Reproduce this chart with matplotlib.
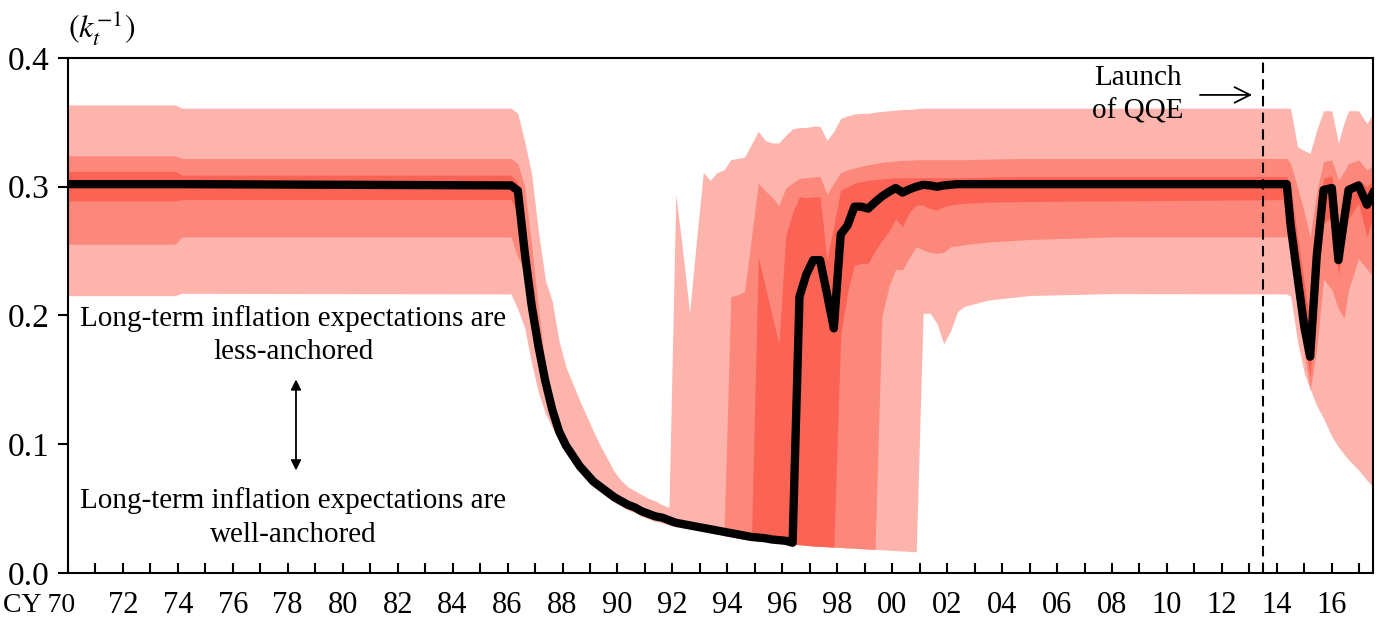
import matplotlib
matplotlib.use("Agg")
import matplotlib.pyplot as plt

plt.rcParams['font.family'] = ['Liberation Serif', 'DejaVu Serif']
plt.rcParams['mathtext.fontset'] = 'stix'

# quarterly dates (irregular spacing where the series are flat)
years = [1970.0, 1973.9, 1974.15, 1986.125,
         1986.375, 1986.625, 1986.875, 1987.125, 1987.375, 1987.625, 1987.875, 1988.125,
         1988.375, 1988.625, 1988.875, 1989.125, 1989.375, 1989.625, 1989.875, 1990.125,
         1990.375, 1990.625, 1990.875, 1991.125, 1991.375, 1991.625, 1991.875, 1992.125,
         1992.375, 1992.625, 1992.875, 1993.125, 1993.375, 1993.625, 1993.875, 1994.125,
         1994.375, 1994.625, 1994.875, 1995.125, 1995.375, 1995.625, 1995.875, 1996.125,
         1996.375, 1996.625, 1996.875, 1997.125, 1997.375, 1997.625, 1997.875, 1998.125,
         1998.375, 1998.625, 1998.875, 1999.125, 1999.375, 1999.625, 1999.875, 2000.125,
         2000.375, 2000.625, 2000.875, 2001.125, 2001.375, 2001.625, 2001.875, 2002.125,
         2002.375, 2002.625,
         2003.5, 2005.0, 2008.0, 2014.36,
         2014.5, 2014.75, 2015.0, 2015.21, 2015.45, 2015.7, 2016.0, 2016.24, 2016.45,
         2016.61, 2016.97, 2017.28, 2017.5]

# median of k_t^-1
median = [0.302, 0.302, 0.302, 0.301,
          0.297, 0.249, 0.208, 0.176, 0.149, 0.127, 0.110, 0.099,
          0.091, 0.083, 0.077, 0.071, 0.067, 0.063, 0.059, 0.056,
          0.053, 0.051, 0.048, 0.046, 0.044, 0.043, 0.041, 0.039,
          0.038, 0.037, 0.036, 0.035, 0.034, 0.033, 0.032, 0.031,
          0.030, 0.029, 0.028, 0.0275, 0.027, 0.026, 0.0255, 0.025,
          0.0235, 0.2146, 0.232, 0.243, 0.243, 0.217, 0.190, 0.263,
          0.270, 0.2845, 0.2845, 0.283, 0.288, 0.2925, 0.296, 0.299,
          0.2955, 0.298, 0.300, 0.3015, 0.301, 0.300, 0.301, 0.3015,
          0.302, 0.302,
          0.302, 0.302, 0.302, 0.302,
          0.270, 0.230, 0.191, 0.168, 0.246, 0.2975, 0.299, 0.243, 0.275,
          0.2975, 0.301, 0.286, 0.295]

outer_hi = [0.3635, 0.3635, 0.361, 0.361,
            0.357, 0.335, 0.310, 0.265, 0.228, 0.211, 0.180, 0.160,
            0.147, 0.134, 0.122, 0.110, 0.099, 0.089, 0.079, 0.072,
            0.067, 0.064, 0.061, 0.058, 0.056, 0.053, 0.051, 0.294,
            0.250, 0.202, 0.258, 0.311, 0.305, 0.311, 0.313, 0.321,
            0.322, 0.323, 0.333, 0.343, 0.336, 0.334, 0.334, 0.340,
            0.345, 0.346, 0.346, 0.347, 0.347, 0.336, 0.343, 0.353,
            0.355, 0.3565, 0.357, 0.357, 0.358, 0.3585, 0.359, 0.3595,
            0.360, 0.360, 0.3605, 0.361, 0.361, 0.361, 0.361, 0.361,
            0.361, 0.361,
            0.361, 0.361, 0.361, 0.361,
            0.361, 0.331, 0.328, 0.326, 0.344, 0.359, 0.359, 0.334, 0.350,
            0.359, 0.359, 0.349, 0.357]

mid_hi = [0.324, 0.324, 0.322, 0.322,
          0.318, 0.300, 0.255, 0.205, 0.162, 0.134, 0.110, 0.099,
          0.091, 0.083, 0.077, 0.071, 0.067, 0.063, 0.059, 0.056,
          0.053, 0.051, 0.048, 0.046, 0.044, 0.043, 0.041, 0.036,
          0.035, 0.034, 0.033, 0.032, 0.031, 0.030, 0.029, 0.2146,
          0.216, 0.2185, 0.260, 0.3027, 0.297, 0.292, 0.2855, 0.299,
          0.303, 0.3065, 0.307, 0.3075, 0.308, 0.294, 0.303, 0.311,
          0.313, 0.3145, 0.316, 0.317, 0.318, 0.319, 0.3196, 0.320,
          0.3205, 0.3205, 0.321, 0.321, 0.321, 0.321, 0.321, 0.321,
          0.321, 0.321,
          0.3215, 0.322, 0.322, 0.322,
          0.318, 0.300, 0.280, 0.261, 0.296, 0.3196, 0.3208, 0.3052, 0.312,
          0.318, 0.3208, 0.313, 0.317]

inner_hi = [0.312, 0.312, 0.309, 0.309,
            0.303, 0.270, 0.220, 0.185, 0.155, 0.130, 0.110, 0.099,
            0.091, 0.083, 0.077, 0.071, 0.067, 0.063, 0.059, 0.056,
            0.053, 0.051, 0.048, 0.046, 0.044, 0.043, 0.041, 0.036,
            0.035, 0.034, 0.033, 0.032, 0.031, 0.030, 0.029, 0.028,
            0.027, 0.026, 0.0255, 0.2457, 0.223, 0.200, 0.1784, 0.262,
            0.280, 0.2923, 0.2915, 0.292, 0.2923, 0.2431, 0.270, 0.2975,
            0.300, 0.3027, 0.304, 0.305, 0.3055, 0.306, 0.3065, 0.307,
            0.307, 0.307, 0.307, 0.307, 0.307, 0.307, 0.307, 0.307,
            0.307, 0.307,
            0.3075, 0.308, 0.308, 0.308,
            0.300, 0.262, 0.225, 0.194, 0.260, 0.3065, 0.3085, 0.2638, 0.285,
            0.300, 0.3052, 0.300, 0.3052]

inner_lo = [0.289, 0.289, 0.290, 0.290,
            0.280, 0.245, 0.205, 0.174, 0.148, 0.126, 0.110, 0.099,
            0.091, 0.083, 0.077, 0.071, 0.067, 0.063, 0.059, 0.056,
            0.053, 0.051, 0.048, 0.046, 0.044, 0.043, 0.041, 0.036,
            0.035, 0.034, 0.033, 0.032, 0.031, 0.030, 0.029, 0.028,
            0.027, 0.026, 0.0255, 0.025, 0.0245, 0.024, 0.0235, 0.023,
            0.0225, 0.022, 0.0215, 0.021, 0.0207, 0.0204, 0.0201, 0.185,
            0.218, 0.239, 0.2405, 0.2405, 0.250, 0.258, 0.265, 0.275,
            0.269, 0.280, 0.2858, 0.2858, 0.283, 0.2819, 0.2845, 0.2858,
            0.2865, 0.287,
            0.288, 0.2885, 0.289, 0.290,
            0.262, 0.222, 0.180, 0.1525, 0.224, 0.2716, 0.2768, 0.2315, 0.258,
            0.275, 0.2872, 0.261, 0.2768]

mid_lo = [0.2553, 0.2553, 0.261, 0.261,
          0.245, 0.235, 0.200, 0.172, 0.147, 0.126, 0.110, 0.099,
          0.091, 0.083, 0.077, 0.071, 0.067, 0.063, 0.059, 0.056,
          0.053, 0.051, 0.048, 0.046, 0.044, 0.043, 0.041, 0.036,
          0.035, 0.034, 0.033, 0.032, 0.031, 0.030, 0.029, 0.028,
          0.027, 0.026, 0.0255, 0.025, 0.0245, 0.024, 0.0235, 0.023,
          0.0225, 0.022, 0.0215, 0.021, 0.0207, 0.0204, 0.0201, 0.0198,
          0.0195, 0.0192, 0.0189, 0.0186, 0.0183, 0.1991, 0.222, 0.236,
          0.2353, 0.245, 0.2534, 0.2508, 0.249, 0.2483, 0.249, 0.2534,
          0.254, 0.255,
          0.257, 0.259, 0.261, 0.261,
          0.258, 0.215, 0.170, 0.142, 0.174, 0.228, 0.220, 0.205, 0.198,
          0.220, 0.244, 0.236, 0.230]

outer_lo = [0.2154, 0.2154, 0.2172, 0.2167,
            0.205, 0.190, 0.163, 0.140, 0.124, 0.113, 0.104, 0.095,
            0.087, 0.079, 0.073, 0.067, 0.063, 0.059, 0.055, 0.052,
            0.049, 0.047, 0.044, 0.042, 0.040, 0.039, 0.037, 0.036,
            0.035, 0.034, 0.033, 0.032, 0.031, 0.030, 0.029, 0.028,
            0.027, 0.026, 0.0255, 0.025, 0.0245, 0.024, 0.0235, 0.023,
            0.0225, 0.022, 0.0215, 0.021, 0.0207, 0.0204, 0.0201, 0.0198,
            0.0195, 0.0192, 0.0189, 0.0186, 0.0183, 0.018, 0.0177, 0.0174,
            0.0171, 0.0168, 0.0165, 0.2017, 0.2017, 0.194, 0.178, 0.188,
            0.203, 0.207,
            0.212, 0.2155, 0.217, 0.2167,
            0.215, 0.180, 0.155, 0.143, 0.130, 0.120, 0.106, 0.098, 0.092,
            0.088, 0.080, 0.072, 0.067]

tick_years = list(range(1970, 2018))
label_years = list(range(1972, 2018, 2))

fig = plt.figure(figsize=(13.78, 6.22), dpi=100)
ax = fig.add_axes([0.0493, 0.0788, 0.9471, 0.828])

ax.fill_between(years, outer_lo, outer_hi, color='#FDB4AD', lw=0)
ax.fill_between(years, mid_lo, mid_hi, color='#FC887C', lw=0)
ax.fill_between(years, inner_lo, inner_hi, color='#FB6354', lw=0)
ax.plot(years, median, color='black', lw=6, solid_joinstyle='round')

# launch of QQE
ax.axvline(2013.48, color='black', lw=1.5, ls=(0, (5, 3)))
ax.text(2008.95, 0.3713, 'Launch\nof QQE', ha='center', va='center',
        fontsize=21, linespacing=1.35)
ax.annotate('', xy=(2013.2, 0.3713), xytext=(2011.1, 0.3713),
            arrowprops=dict(arrowstyle='->', color='black', lw=1.3,
                            mutation_scale=28))

ax.text(1978.2, 0.1849, 'Long-term inflation expectations are\nless-anchored',
        ha='center', va='center', fontsize=21, linespacing=1.37)
ax.text(1978.2, 0.0431, 'Long-term inflation expectations are\nwell-anchored',
        ha='center', va='center', fontsize=21, linespacing=1.37)
ax.annotate('', xy=(1978.3, 0.1525), xytext=(1978.3, 0.0775),
            arrowprops=dict(arrowstyle='<|-|>', color='black', lw=1.3,
                            mutation_scale=15))

ax.set_xlim(1970, 2017.5)
ax.set_ylim(0, 0.4)
ax.set_xticks(tick_years)
ax.set_xticklabels(['%02d' % (y % 100) if y in label_years else '' for y in tick_years])
ax.text(1970.25, 0, 'CY 70', ha='right', va='top', fontsize=20, clip_on=False,
        transform=ax.get_xaxis_transform())
ax.set_yticks([0.0, 0.1, 0.2, 0.3, 0.4])
ax.set_yticklabels(['0.0', '0.1', '0.2', '0.3', '0.4'])
ax.tick_params(axis='x', direction='in', length=7, width=1.5, pad=13, labelsize=22)
ax.tick_params(axis='y', direction='out', length=7, width=1.5, pad=6, labelsize=24)
for s in ax.spines.values():
    s.set_linewidth(1.5)

# align the CY 70 label with the other year labels
fig.canvas.draw()
lab = [t for t in ax.get_xticklabels() if t.get_text()][0]
bb = lab.get_window_extent()
cy = ax.texts[-1]
cy.set_transform(fig.transFigure)
cy.set_position((ax.transData.transform((1970.25, 0))[0] / fig.bbox.width,
                 (bb.y0 + bb.y1) / 2 / fig.bbox.height))
cy.set_va('center')

fig.text(0.049, 0.955, r'$(k_t^{-1})$', fontsize=23, ha='left', va='center')

fig.savefig('out.png', dpi=100)
